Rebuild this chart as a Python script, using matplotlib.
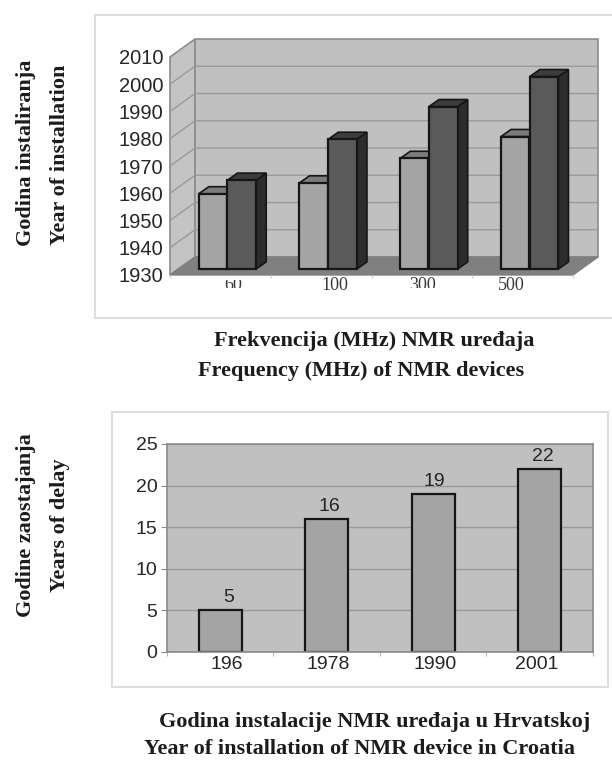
import matplotlib
matplotlib.use('Agg')
import matplotlib.pyplot as plt
from matplotlib.patches import Rectangle, Polygon
from matplotlib.transforms import Bbox

# top chart: year of installation
freq_labels = ['60', '100', '300', '500']
world_years = [1958, 1962, 1971, 1979]
croatia_years = [1963, 1978, 1990, 2001]
year_ticks = [1930, 1940, 1950, 1960, 1970, 1980, 1990, 2000, 2010]

# bottom chart: years of delay
install_labels = ['196', '1978', '1990', '2001']
delay_values = [5, 16, 19, 22]
delay_ticks = [0, 5, 10, 15, 20, 25]

W, H = 612, 760
INK = '#262626'
EDGE = '#161616'
SERIF = 'Liberation Serif'
SANS = 'Liberation Sans'


def px_axes(fig, left, top, right, bottom):
    ax = fig.add_axes([left / W, 1 - bottom / H, (right - left) / W, (bottom - top) / H])
    ax.patch.set_alpha(0)
    return ax


def frame(fig, left, top, right, bottom):
    fig.add_artist(Rectangle((left / W, 1 - bottom / H), (right - left) / W, (bottom - top) / H,
                             transform=fig.transFigure, fc='white', ec='#dedede', lw=1.5, zorder=-1))


def bold_text(fig, x, y, s, size=16, **kw):
    fig.text(x / W, 1 - y / H, s, family=SERIF, weight='bold', fontsize=size, color='#1c1c1c',
             ha='center', va='center', **kw)


def bar_3d(ax, x, width, base, value, front, side, top, ddx, ddy):
    ax.add_patch(Polygon([(x + width, base), (x + width + ddx, base + ddy),
                          (x + width + ddx, value + ddy), (x + width, value)],
                         fc=side, ec=EDGE, lw=1.2))
    ax.add_patch(Polygon([(x, value), (x + ddx, value + ddy),
                          (x + width + ddx, value + ddy), (x + width, value)],
                         fc=top, ec=EDGE, lw=1.2))
    ax.add_patch(Rectangle((x, base), width, value - base, fc=front, ec=EDGE, lw=1.6))


fig = plt.figure(figsize=(W / 100, H / 100), dpi=100, facecolor='white')
frame(fig, 95, 15, 640, 318)
frame(fig, 112, 412, 608, 687)

# ---- top chart, axes box is the front plane of the 3d box
ax = px_axes(fig, 170, 57, 573, 275)
ax.set_xlim(0, 4)
ax.set_ylim(1930, 2010)
for s in ax.spines.values():
    s.set_visible(False)
DX, DY = 0.248, 6.6
wall = '#c0c0c0'
ln = '#8c8c8c'
ax.add_patch(Polygon([(0, 1930), (DX, 1930 + DY), (DX, 2010 + DY), (0, 2010)],
                     fc='#c4c4c4', ec=ln, lw=1.2, clip_on=False, zorder=0.2))
ax.add_patch(Rectangle((DX, 1930 + DY), 4, 80, fc=wall, ec=ln, lw=1.2, clip_on=False, zorder=0.2))
for y in year_ticks[1:-1]:
    ax.plot([0, DX, 4 + DX], [y, y + DY, y + DY], color='#9a9a9a', lw=1, clip_on=False, zorder=0.3)
ax.add_patch(Polygon([(0, 1930), (4, 1930), (4 + DX, 1930 + DY), (DX, 1930 + DY)],
                     fc='#808080', ec='#808080', lw=1, clip_on=False, zorder=0.4))

BASE = 1932.2
SHIFT = 1.8
for i, (a, b) in enumerate(zip(world_years, croatia_years)):
    x0 = i + 0.5 + 0.07 - 0.285
    bar_3d(ax, x0, 0.28, BASE, a + SHIFT, '#a4a4a4', '#2e2e2e', '#7c7c7c', 0.1, 2.6)
    bar_3d(ax, x0 + 0.285, 0.285, BASE, b + SHIFT, '#5a5a5a', '#2c2c2c', '#3c3c3c', 0.1, 2.6)
    for p in ax.patches[-6:]:
        p.set_clip_on(False)

ax.set_yticks(year_ticks)
ax.set_yticklabels(year_ticks, family=SANS, fontsize=14.5, color=INK)
ax.set_xticks([0, 1, 2, 3, 4])
ax.set_xticklabels([])
ax.tick_params(axis='y', length=0, pad=5)
ax.tick_params(axis='x', length=2, color='#d0d0d0', width=1)

# the lower labels are partly cut off in the original
label_px = [233, 335, 423, 511]
clip_px = [(280, 288), (270, 295), (270, 288), (270, 295)]
for lab, x, (c0, c1) in zip(freq_labels, label_px, clip_px):
    t = fig.text(x / W, 1 - 285 / H, lab, family=SERIF, fontsize=13, color='#3a3a3a',
                 ha='center', va='center')
    t.set_clip_on(True)
    t.set_clip_box(Bbox([[0, H - c1], [W, H - c0]]))

bold_text(fig, 26, 153, 'Godina instaliranja', rotation=90)
bold_text(fig, 60, 155, 'Year of installation', rotation=90)
bold_text(fig, 374, 341, 'Frekvencija (MHz) NMR uređaja')
bold_text(fig, 361, 371, 'Frequency (MHz) of NMR devices')

# ---- bottom chart
ax2 = px_axes(fig, 167, 444, 593, 652)
ax2.patch.set_alpha(1)
ax2.set_facecolor('#c0c0c0')
ax2.set_xlim(0, 4)
ax2.set_ylim(0, 25)
ax2.set_axisbelow(True)
ax2.grid(axis='y', color='#9a9a9a', lw=1)
centers = [i + 0.5 for i in range(len(delay_values))]
ax2.bar(centers, delay_values, width=0.4, color='#a4a4a4', edgecolor=EDGE, linewidth=1.6)
for s in ax2.spines.values():
    s.set_color('#8a8a8a')
    s.set_linewidth(1.2)
ax2.set_yticks(delay_ticks)
ax2.set_yticklabels(delay_ticks, family=SANS, fontsize=14, color=INK)
ax2.set_xticks([0, 1, 2, 3, 4])
ax2.set_xticklabels([])
ax2.tick_params(axis='y', length=4, color='#8a8a8a', pad=3)
ax2.tick_params(axis='x', length=3, color='#b5b5b5')

value_off = [8, 3, 1, 3]
tick_off = [7, 1, 2, -3]
for c, v, lab, vo, to in zip(centers, delay_values, install_labels, value_off, tick_off):
    ax2.annotate(str(v), (c, v), xytext=(vo * 0.72, 4 * 0.72), textcoords='offset points',
                 family=SANS, fontsize=14, color=INK, ha='center', va='bottom')
    ax2.annotate(lab, (c, 0), xytext=(to * 0.72, -4 * 0.72), textcoords='offset points',
                 family=SANS, fontsize=14, color=INK, ha='center', va='top')

bold_text(fig, 26, 525, 'Godine zaostajanja', rotation=90)
bold_text(fig, 60, 525, 'Years of delay', rotation=90)
bold_text(fig, 375, 722, 'Godina instalacije NMR uređaja u Hrvatskoj')
bold_text(fig, 360, 749, 'Year of installation of NMR device in Croatia')

fig.savefig('out.png', dpi=100)
